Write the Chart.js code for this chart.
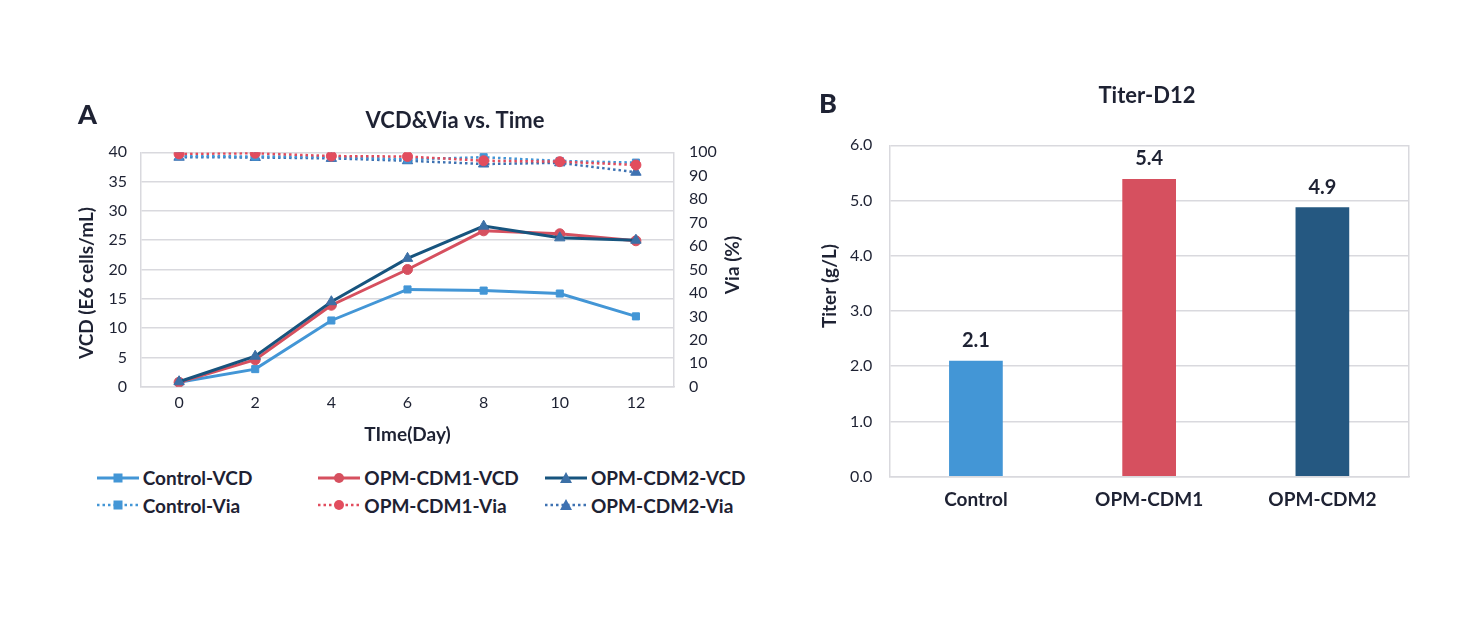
<!DOCTYPE html>
<html>
<head>
<meta charset="utf-8">
<script src="https://cdn.jsdelivr.net/npm/chart.js@4.4.1/dist/chart.umd.min.js"></script>
<style>
html,body{margin:0;padding:0;background:#fff;width:1469px;height:625px;overflow:hidden;font-family:Lato,"Noto Sans",sans-serif;color:#1E2233}
#w1{position:absolute;left:0;top:0;width:760px;height:450px}
#w2{position:absolute;left:760px;top:0;width:709px;height:520px}
.panel{position:absolute;font-weight:900;font-size:27px;line-height:1;color:#1E2233}
.li{position:absolute;display:flex;align-items:center;font-weight:700;font-size:19px;white-space:nowrap;height:20px;color:#1E2233}
.li svg{margin-right:4px}
</style>
</head>
<body>
<div id="w1"><canvas id="c1"></canvas></div>
<div id="w2"><canvas id="c2"></canvas></div>
<div class="panel" style="left:78px;top:100px">A</div>
<div class="panel" style="left:819px;top:89px">B</div>
<div id="legend"></div>
<script>
// ---------- data ----------
const days = ['0', '2', '4', '6', '8', '10', '12'];
const controlVCD = [0.75, 3.0, 11.3, 16.6, 16.4, 15.9, 12.0];
const cdm1VCD    = [0.75, 4.6, 13.9, 20.0, 26.6, 26.1, 24.9];
const cdm2VCD    = [0.85, 5.2, 14.5, 21.9, 27.4, 25.4, 25.0];
const controlVia = [98.4, 98.2, 98.1, 97.0, 97.9, 96.3, 95.6];
const cdm1Via    = [99.3, 99.6, 98.4, 98.2, 96.4, 96.0, 94.6];
const cdm2Via    = [97.9, 97.8, 97.4, 96.4, 95.0, 95.5, 91.5];
const vcdTicks = [0, 40, 5];
const viaTicks = [0, 100, 10];
const titerGroups = ['Control', 'OPM-CDM1', 'OPM-CDM2'];
const titerValues = [2.1, 5.39, 4.88];
const titerTicks = [0, 6, 1];

const cLight = '#4396D6', cRed = '#D6505F', cDark = '#17547E', cDarkMk = '#3C70A6';
const gridC = '#D9D9DE';
const txt = '#1E2233';

Chart.defaults.font.family = 'Lato';
Chart.defaults.color = txt;
Chart.defaults.animation = false;

const series = [
  {label:'Control-VCD',  data:controlVCD, color:cLight, mk:cLight, style:'rect',     r:5, dotted:false, axis:'y',  col:0, row:0, order:3},
  {label:'OPM-CDM1-VCD', data:cdm1VCD,    color:cRed,   mk:cRed,   style:'circle',   r:5, dotted:false, axis:'y',  col:1, row:0, order:2},
  {label:'OPM-CDM2-VCD', data:cdm2VCD,    color:cDark,  mk:cDarkMk,style:'triangle', r:6, dotted:false, axis:'y',  col:2, row:0, order:1},
  {label:'Control-Via',  data:controlVia, color:cLight, mk:cLight, style:'rect',     r:5, dotted:true,  axis:'y1', col:0, row:1, order:5},
  {label:'OPM-CDM1-Via', data:cdm1Via,    color:'#E24D5E', mk:'#E24D5E', style:'circle', r:5, dotted:true, axis:'y1', col:1, row:1, order:4},
  {label:'OPM-CDM2-Via', data:cdm2Via,    color:'#3E72B2', mk:'#3E72B2', style:'triangle', r:6, dotted:true, axis:'y1', col:2, row:1, order:6}
];

const tickFont = {size:16, weight:'400'};
const axisTitleFont = {size:19, weight:'700'};

// draws titles (chart title and vertical axis titles, all reading bottom-to-top)
const fixedTexts = {
  id:'fixedTexts',
  afterDraw(chart, args, opts){
    const ctx = chart.ctx;
    (opts.items || []).forEach(t => {
      ctx.save();
      ctx.font = t.font;
      ctx.fillStyle = txt;
      ctx.textAlign = 'center';
      ctx.textBaseline = 'middle';
      ctx.translate(t.x, t.y);
      if (t.rot) ctx.rotate(-Math.PI / 2);
      ctx.fillText(t.text, 0, 0);
      ctx.restore();
    });
  }
};

new Chart(document.getElementById('c1'), {
  type:'line',
  data:{
    labels:days,
    datasets:series.map(s => ({
      label:s.label, data:s.data, yAxisID:s.axis, order:s.order,
      borderColor:s.color, backgroundColor:s.mk,
      pointBackgroundColor:s.mk, pointBorderColor:s.mk,
      pointStyle:s.style, pointRadius:s.r, pointBorderWidth:1,
      borderWidth:s.dotted ? 2.5 : 3, borderDash:s.dotted ? [2.5, 3] : [],
      tension:0
    }))
  },
  plugins:[fixedTexts],
  options:{
    responsive:true, maintainAspectRatio:false,
    layout:{padding:{left:76.2, right:16.2, top:152.3, bottom:4.2}},
    plugins:{
      legend:{display:false},
      tooltip:{enabled:false},
      fixedTexts:{items:[
        {text:'VCD&Via vs. Time', x:455, y:121, font:'700 22px Lato'},
        {text:'VCD (E6 cells/mL)', x:87, y:283, font:'700 19px Lato', rot:true},
        {text:'Via (%)', x:733, y:265, font:'700 19px Lato', rot:true}
      ]}
    },
    scales:{
      x:{
        offset:true,
        grid:{display:false, drawTicks:false},
        border:{display:true, color:gridC, width:1.5},
        ticks:{font:tickFont, color:txt, padding:7},
        title:{display:true, text:'TIme(Day)', font:axisTitleFont, color:txt, padding:0},
        afterFit(s){ s.height = 59.1; }
      },
      y:{
        position:'left', min:vcdTicks[0], max:vcdTicks[1],
        ticks:{stepSize:vcdTicks[2], font:tickFont, color:txt, padding:14},
        grid:{color:gridC, lineWidth:1.5, drawTicks:false},
        border:{display:true, color:gridC, width:1.5},
        afterFit(s){ s.width = 64.8; }
      },
      y1:{
        position:'right', min:viaTicks[0], max:viaTicks[1],
        ticks:{stepSize:viaTicks[2], font:tickFont, color:txt, padding:15},
        grid:{drawOnChartArea:false, drawTicks:false},
        border:{display:true, color:gridC, width:1.5},
        afterFit(s){ s.width = 69.8; }
      }
    }
  }
});

// ---------- HTML legend built from the series ----------
const colLine = [96.7, 318.3, 545];
const rowY = [477.5, 505];
const leg = document.getElementById('legend');
series.forEach(s => {
  const d = document.createElement('div');
  d.className = 'li';
  d.style.left = colLine[s.col] + 'px';
  d.style.top = (rowY[s.row] - 10) + 'px';
  let mk = '';
  if (s.style === 'rect') mk = `<rect x="16.5" y="2.5" width="9" height="9" fill="${s.mk}"/>`;
  else if (s.style === 'circle') mk = `<circle cx="21" cy="7" r="5" fill="${s.mk}"/>`;
  else mk = `<polygon points="21,1 27,12 15,12" fill="${s.mk}"/>`;
  const line = s.dotted
    ? `<line x1="0" y1="7" x2="42" y2="7" stroke="${s.color}" stroke-width="2.5" stroke-dasharray="2.5 3"/>`
    : `<line x1="0" y1="7" x2="42" y2="7" stroke="${s.color}" stroke-width="3"/>`;
  d.innerHTML = `<svg width="42" height="14" viewBox="0 0 42 14">${line}${mk}</svg><span>${s.label}</span>`;
  leg.appendChild(d);
});

// ---------- bar chart ----------
const barLabels = {
  id:'barLabels',
  afterDatasetsDraw(chart){
    const ctx = chart.ctx;
    const meta = chart.getDatasetMeta(0);
    ctx.save();
    ctx.font = '700 20px Lato';
    ctx.fillStyle = txt;
    ctx.textAlign = 'center';
    ctx.textBaseline = 'middle';
    meta.data.forEach((bar, i) => {
      ctx.fillText(chart.data.datasets[0].data[i].toFixed(1), bar.x, bar.y - 20);
    });
    ctx.restore();
  }
};

new Chart(document.getElementById('c2'), {
  type:'bar',
  data:{
    labels:titerGroups,
    datasets:[{
      label:'Titer', data:titerValues,
      backgroundColor:[cLight, '#D6505F', '#255881'],
      barPercentage:0.31, categoryPercentage:1
    }]
  },
  plugins:[barLabels, fixedTexts],
  options:{
    responsive:true, maintainAspectRatio:false,
    layout:{padding:{left:59.2, right:60, top:145.3, bottom:0}},
    plugins:{
      legend:{display:false},
      tooltip:{enabled:false},
      fixedTexts:{items:[
        {text:'Titer-D12', x:387, y:96, font:'700 22px Lato'},
        {text:'Titer (g/L)', x:70, y:286, font:'700 19px Lato', rot:true}
      ]}
    },
    scales:{
      x:{
        grid:{display:false, drawTicks:false},
        border:{display:true, color:gridC, width:1.5},
        ticks:{font:{size:19, weight:'700'}, color:txt, padding:12},
        afterFit(s){ s.height = 43.3; }
      },
      y:{
        position:'left', min:titerTicks[0], max:titerTicks[1],
        ticks:{stepSize:titerTicks[2], font:tickFont, color:txt, padding:17, callback:v => v.toFixed(1)},
        grid:{color:gridC, lineWidth:1.5, drawTicks:false},
        border:{display:true, color:gridC, width:1.5},
        afterFit(s){ s.width = 70.1; }
      },
      y1:{
        position:'right', min:0, max:1,
        ticks:{display:false},
        grid:{drawOnChartArea:false, drawTicks:false},
        border:{display:true, color:gridC, width:1.5},
        afterFit(s){ s.width = 0; }
      }
    }
  }
});
</script>
</body>
</html>
